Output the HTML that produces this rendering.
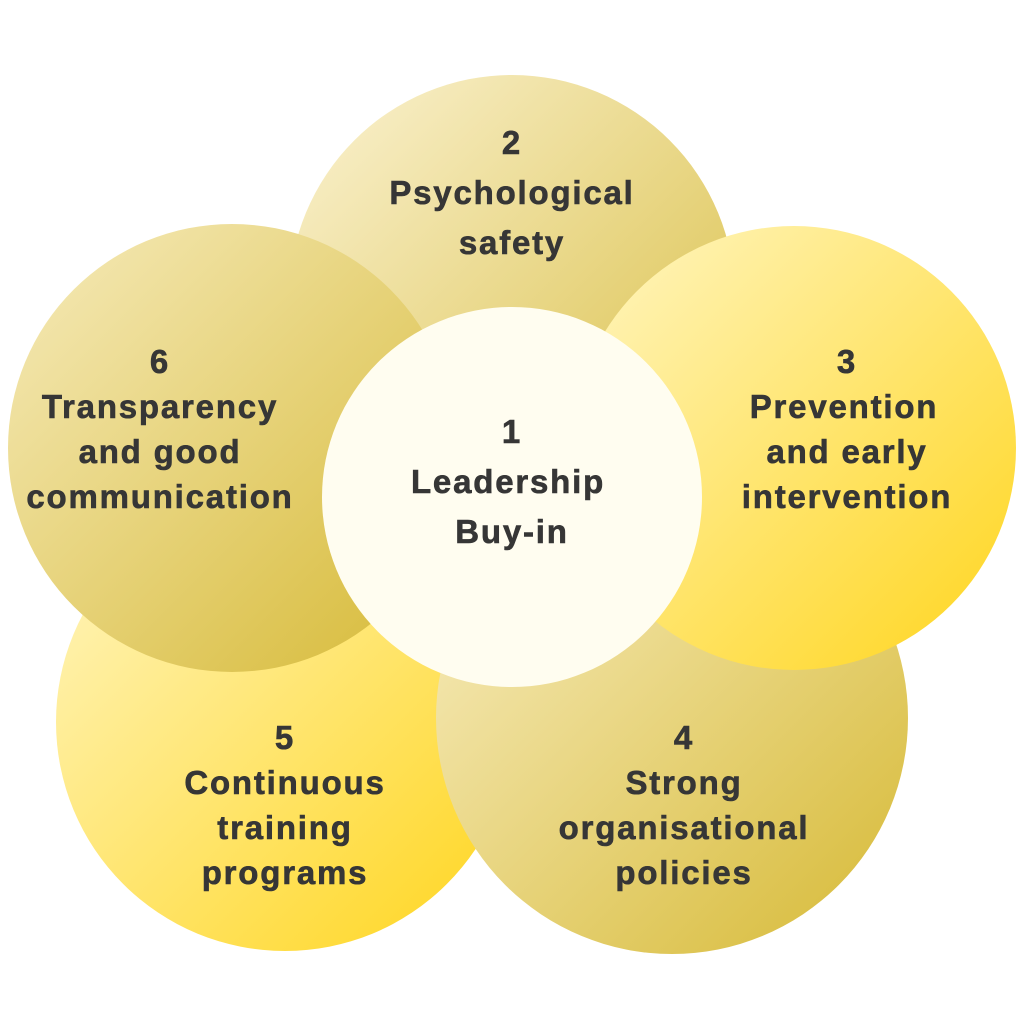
<!DOCTYPE html>
<html><head><meta charset="utf-8"><style>
html,body{margin:0;padding:0;background:#fff;}
svg{display:block}
text{font-family:"Liberation Sans",sans-serif;font-weight:bold;fill:#363636;font-size:33px;text-anchor:middle;letter-spacing:1.8px;stroke:#363636;stroke-width:0.6px}
</style></head><body>
<svg width="1024" height="1024" viewBox="0 0 1024 1024">
<defs>
<linearGradient id="g2" x1="0" y1="0" x2="1" y2="1"><stop offset="0" stop-color="#fbf3d4"/><stop offset="1" stop-color="#d8bd40"/></linearGradient>
<linearGradient id="g3" x1="0" y1="0" x2="1" y2="1"><stop offset="0" stop-color="#fff6c4"/><stop offset="1" stop-color="#ffd51c"/></linearGradient>
<linearGradient id="g6" x1="0" y1="0" x2="1" y2="1"><stop offset="0" stop-color="#f6ebbc"/><stop offset="1" stop-color="#d6b934"/></linearGradient>
<linearGradient id="g5" x1="0" y1="0" x2="1" y2="1"><stop offset="0" stop-color="#fff6c4"/><stop offset="1" stop-color="#ffd51c"/></linearGradient>
<linearGradient id="g4" x1="0" y1="0" x2="1" y2="1"><stop offset="0" stop-color="#f9efc6"/><stop offset="1" stop-color="#d6b934"/></linearGradient>
</defs>
<circle cx="512" cy="298" r="223" fill="url(#g2)"/>
<circle cx="285" cy="722" r="229" fill="url(#g5)"/>
<circle cx="672" cy="718" r="236" fill="url(#g4)"/>
<circle cx="232" cy="448" r="224" fill="url(#g6)"/>
<circle cx="794" cy="448" r="222" fill="url(#g3)"/>
<circle cx="512" cy="497" r="190" fill="#fffdf0"/>

<text x="512" y="154">2</text>
<text x="512" y="204">Psychological</text>
<text x="512" y="254">safety</text>

<text x="512" y="443">1</text>
<text x="508" y="493">Leadership</text>
<text x="512" y="543">Buy-in</text>

<text x="847" y="373">3</text>
<text x="844" y="418">Prevention</text>
<text x="847" y="463">and early</text>
<text x="847" y="508">intervention</text>

<text x="160" y="373">6</text>
<text x="160" y="418">Transparency</text>
<text x="160" y="463">and good</text>
<text x="160" y="508">communication</text>

<text x="285" y="749">5</text>
<text x="285" y="794">Continuous</text>
<text x="285" y="839">training</text>
<text x="285" y="884">programs</text>

<text x="684" y="749">4</text>
<text x="684" y="794">Strong</text>
<text x="684" y="839">organisational</text>
<text x="684" y="884">policies</text>
</svg>
</body></html>
